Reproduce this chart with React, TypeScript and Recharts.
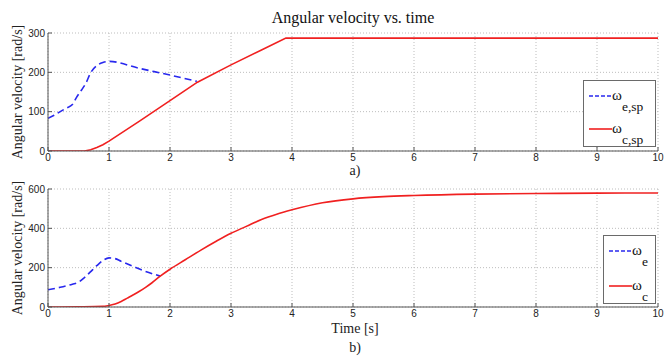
import { LineChart, Line, XAxis, YAxis, CartesianGrid } from 'recharts';

/* ---- shared axis ticks ---- */
const X_TICKS = [0, 1, 2, 3, 4, 5, 6, 7, 8, 9, 10];
const TOP_Y_TICKS = [0, 100, 200, 300];
const BOT_Y_TICKS = [0, 200, 400, 600];

/* ---- a) set-point speeds ---- */
const espTime = [0, 0.1, 0.2, 0.3, 0.4, 0.47, 0.55, 0.62, 0.7, 0.8, 0.9, 1.0, 1.5, 2.0, 2.44];
const espValue = [83, 91, 100, 109, 118, 137, 155, 172, 199, 217, 225, 228, 210, 193, 177];

const cspTime = [0, 0.6, 0.7, 0.8, 0.9, 1.0, 1.5, 2.0, 2.45, 3.0, 3.5, 3.9, 10];
const cspValue = [0, 0, 3, 9, 16, 25, 76, 128, 175, 219, 257, 287, 287];

/* ---- b) actual speeds ---- */
const eTime = [0, 0.2, 0.4, 0.5, 0.6, 0.7, 0.8, 0.9, 1.0, 1.1, 1.2, 1.4, 1.6, 1.84];
const eValue = [88, 100, 116, 126, 150, 180, 210, 236, 250, 246, 232, 206, 181, 157];

const cTime = [0, 0.5, 0.9, 1.0, 1.1, 1.2, 1.3, 1.4, 1.5, 1.6, 1.7, 1.84, 2.0, 2.25, 2.5, 2.75, 3.0, 3.25, 3.5, 3.75, 4.0, 4.5, 5.0, 5.5, 6.0, 7.0, 8.0, 9.0, 10];
const cValue = [0, 1, 3, 8, 15, 28, 45, 62, 80, 100, 122, 157, 192, 240, 288, 333, 375, 410, 445, 472, 494, 530, 550, 561, 567, 574, 577, 579, 580];

const TOP_NAMES = ['e,sp', 'c,sp'];
const BOT_NAMES = ['e', 'c'];

const toPoints = (t: number[], v: number[]) => t.map((x, i) => ({ t: x, v: v[i] }));

const SERIF = '"Liberation Serif", "Times New Roman", serif';
const SANS = '"Liberation Sans", Arial, sans-serif';
const BLUE = '#2828ee';
const RED = '#f02020';
const AXIS = '#555';
const TICK = { fill: '#222', fontSize: 10, fontFamily: SANS };

interface PanelProps {
  height: number;
  marginTop: number;
  bottomHeight: number;
  marginBottom: number;
  yTicks: number[];
  curve: 'linear' | 'monotone';
  dashed: { t: number; v: number }[];
  solid: { t: number; v: number }[];
}

function Panel({ height, marginTop, bottomHeight, marginBottom, yTicks, curve, dashed, solid }: PanelProps) {
  const yMax = yTicks[yTicks.length - 1];
  return (
    <LineChart
      width={666}
      height={height}
      margin={{ top: marginTop, right: 8, bottom: marginBottom, left: 8 }}
    >
      <CartesianGrid stroke="#bdbdbd" strokeDasharray="1 2" />
      <XAxis
        type="number"
        dataKey="t"
        domain={[0, 10]}
        ticks={X_TICKS}
        height={bottomHeight}
        tick={TICK}
        tickSize={-4}
        tickMargin={7}
        axisLine={{ stroke: AXIS }}
        tickLine={{ stroke: AXIS }}
        allowDataOverflow
      />
      <XAxis
        xAxisId="top"
        orientation="top"
        type="number"
        dataKey="t"
        domain={[0, 10]}
        ticks={X_TICKS}
        height={0}
        tickSize={-4}
        tickFormatter={() => ''}
        axisLine={{ stroke: AXIS }}
        tickLine={{ stroke: AXIS }}
      />
      <YAxis
        type="number"
        domain={[0, yMax]}
        ticks={yTicks}
        width={40}
        tick={TICK}
        tickSize={-4}
        tickMargin={7}
        axisLine={{ stroke: AXIS }}
        tickLine={{ stroke: AXIS }}
        allowDataOverflow
      />
      <YAxis
        yAxisId="right"
        orientation="right"
        type="number"
        domain={[0, yMax]}
        ticks={yTicks}
        width={0}
        tickSize={-4}
        tickFormatter={() => ''}
        axisLine={{ stroke: AXIS }}
        tickLine={{ stroke: AXIS }}
      />
      <Line
        data={dashed}
        dataKey="v"
        type="monotone"
        stroke={BLUE}
        strokeWidth={1.6}
        strokeDasharray="7 4"
        dot={false}
        isAnimationActive={false}
      />
      <Line
        data={solid}
        dataKey="v"
        type={curve}
        stroke={RED}
        strokeWidth={1.6}
        dot={false}
        isAnimationActive={false}
      />
    </LineChart>
  );
}

interface LegendProps {
  names: string[];
  left: number;
  top: number;
  width: number;
  height: number;
  rows: number[];
}

function LegendBox({ names, left, top, width, height, rows }: LegendProps) {
  const styles = [
    { stroke: BLUE, dash: '4 2' },
    { stroke: RED, dash: undefined },
  ];
  return (
    <div
      style={{
        position: 'absolute',
        left,
        top,
        width,
        height,
        boxSizing: 'border-box',
        border: '1.5px solid #6a6a6a',
        background: '#fff',
        fontFamily: SERIF,
        color: '#111',
      }}
    >
      {names.map((n, i) => (
        <div key={n}>
          <svg width={23} height={16} style={{ position: 'absolute', left: 5, top: rows[i] - 9 }}>
            <line x1={0} y1={8} x2={23} y2={8} stroke={styles[i].stroke} strokeWidth={1.6} strokeDasharray={styles[i].dash} />
          </svg>
          <span style={{ position: 'absolute', left: 28, top: rows[i] - 7, fontSize: 15, lineHeight: '11px' }}>ω</span>
          <span style={{ position: 'absolute', left: 38, top: rows[i] + 4, fontSize: 13.5, lineHeight: '12px', whiteSpace: 'nowrap' }}>{n}</span>
        </div>
      ))}
    </div>
  );
}

const rotated = (top: number, height: number) => ({
  position: 'absolute' as const,
  left: 18 - 80,
  top: top + height / 2 - 9,
  width: 160,
  textAlign: 'center' as const,
  transform: 'rotate(-90deg)',
  fontFamily: SERIF,
  fontSize: 14,
  lineHeight: '18px',
  color: '#222',
  whiteSpace: 'nowrap' as const,
});

const caption = (top: number) => ({
  position: 'absolute' as const,
  left: 50,
  width: 610,
  top,
  textAlign: 'center' as const,
  fontFamily: SERIF,
  fontSize: 14,
  lineHeight: '16px',
  color: '#222',
});

export default function App() {
  return (
    <div style={{ position: 'absolute', left: 0, top: 0, width: 666, height: 358, background: '#fff', overflow: 'hidden' }}>
      <div style={{ position: 'absolute', left: 0, top: 0 }}>
        <Panel
          height={175}
          marginTop={33}
          bottomHeight={24}
          marginBottom={0}
          yTicks={TOP_Y_TICKS}
          curve="linear"
          dashed={toPoints(espTime, espValue)}
          solid={toPoints(cspTime, cspValue)}
        />
      </div>
      <div style={{ position: 'absolute', left: 0, top: 175 }}>
        <Panel
          height={183}
          marginTop={14}
          bottomHeight={24}
          marginBottom={27}
          yTicks={BOT_Y_TICKS}
          curve="monotone"
          dashed={toPoints(eTime, eValue)}
          solid={toPoints(cTime, cValue)}
        />
      </div>

      <div style={{ position: 'absolute', left: 48, width: 610, top: 9, textAlign: 'center', fontFamily: SERIF, fontSize: 16, lineHeight: '18px', color: '#111' }}>
        Angular velocity vs. time
      </div>
      <div style={rotated(33, 118)}>Angular velocity [rad/s]</div>
      <div style={rotated(189, 118)}>Angular velocity [rad/s]</div>

      <div style={caption(163)}>a)</div>
      <div style={caption(321)}>Time [s]</div>
      <div style={caption(340)}>b)</div>

      <LegendBox names={TOP_NAMES} left={583} top={80} width={73} height={67} rows={[16, 49]} />
      <LegendBox names={BOT_NAMES} left={603} top={235} width={53} height={69} rows={[16, 51]} />
    </div>
  );
}
